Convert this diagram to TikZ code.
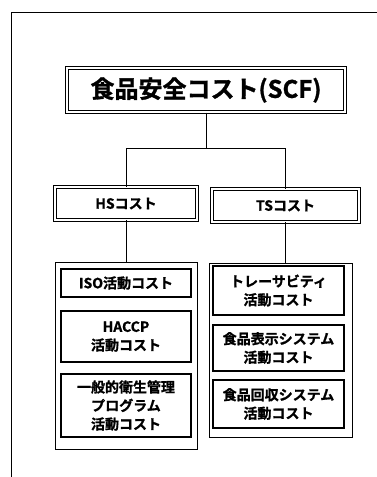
\documentclass[tikz,border=0pt]{standalone}
\usepackage{fontspec}
\setmainfont{Noto Sans CJK JP}[BoldFont={Noto Sans CJK JP Bold}, BoldFeatures={FakeBold=1.2}]
\begin{document}
\begin{tikzpicture}[x=1pt,y=-1pt,
  topbox/.style={draw, line width=1pt, double, double distance=1.6pt, minimum width=#1, inner sep=0pt},
  midbox/.style={draw, line width=0.9pt, double, double distance=1.3pt, inner sep=0pt},
  groupbox/.style={draw, line width=1pt, inner sep=0pt},
  itembox/.style={draw, line width=2pt, inner sep=0pt, align=center, font=\fontsize{14}{18.5}\selectfont\bfseries},
  link/.style={draw, line width=1pt}
]
\useasboundingbox (0,0) rectangle (377,477);
% outer frame
\coordinate (fA) at (11,477);
\coordinate (fB) at (11,12);
\coordinate (fC) at (377,12);
\draw[line width=1pt] (fA) -- (fB) -- (fC);

% top
\node[topbox=278pt, minimum height=44pt, font=\fontsize{24}{26}\selectfont\bfseries] (top) at (206,90) {食品安全コスト(SCF)};

% HS / TS
\node[midbox, minimum width=142pt, minimum height=33pt, font=\fontsize{14}{16}\selectfont\bfseries] (hs) at (126,203.5) {HSコスト};
\node[midbox, minimum width=147pt, minimum height=33pt, font=\fontsize{14}{16}\selectfont\bfseries] (ts) at (285.5,205.5) {TSコスト};

% groups
\node[groupbox, minimum width=142pt, minimum height=187pt] (lg) at (126,355.5) {};
\node[groupbox, minimum width=143pt, minimum height=174pt] (rg) at (280.5,350) {};

% left items
\node[itembox, minimum width=130pt, minimum height=28pt] (iso) at (126,283) {ISO活動コスト};
\node[itembox, minimum width=130pt, minimum height=51pt] (haccp) at (126,336.5) {HACCP\\活動コスト};
\node[itembox, minimum width=130pt, minimum height=63pt] (gmp) at (126,405.5) {一般的衛生管理\\プログラム\\活動コスト};

% right items
\node[itembox, minimum width=131pt, minimum height=49pt] (tr) at (278.5,290.5) {トレーサビティ\\活動コスト};
\node[itembox, minimum width=131pt, minimum height=46pt] (hyo) at (278.5,348) {食品表示システム\\活動コスト};
\node[itembox, minimum width=131pt, minimum height=48pt] (kai) at (278.5,404) {食品回収システム\\活動コスト};

% connectors
\coordinate (bar) at (206,148);
\draw[link] (top.south) -- (bar);
\draw[link] (hs.north |- bar) -- (ts.north |- bar);
\draw[link] (hs.north |- bar) -- (hs.north);
\draw[link] (ts.north |- bar) -- (ts.north);
\draw[link] (hs.south) -- (hs.south |- lg.north);
\draw[link] (ts.south) -- (ts.south |- rg.north);
\end{tikzpicture}
\end{document}
